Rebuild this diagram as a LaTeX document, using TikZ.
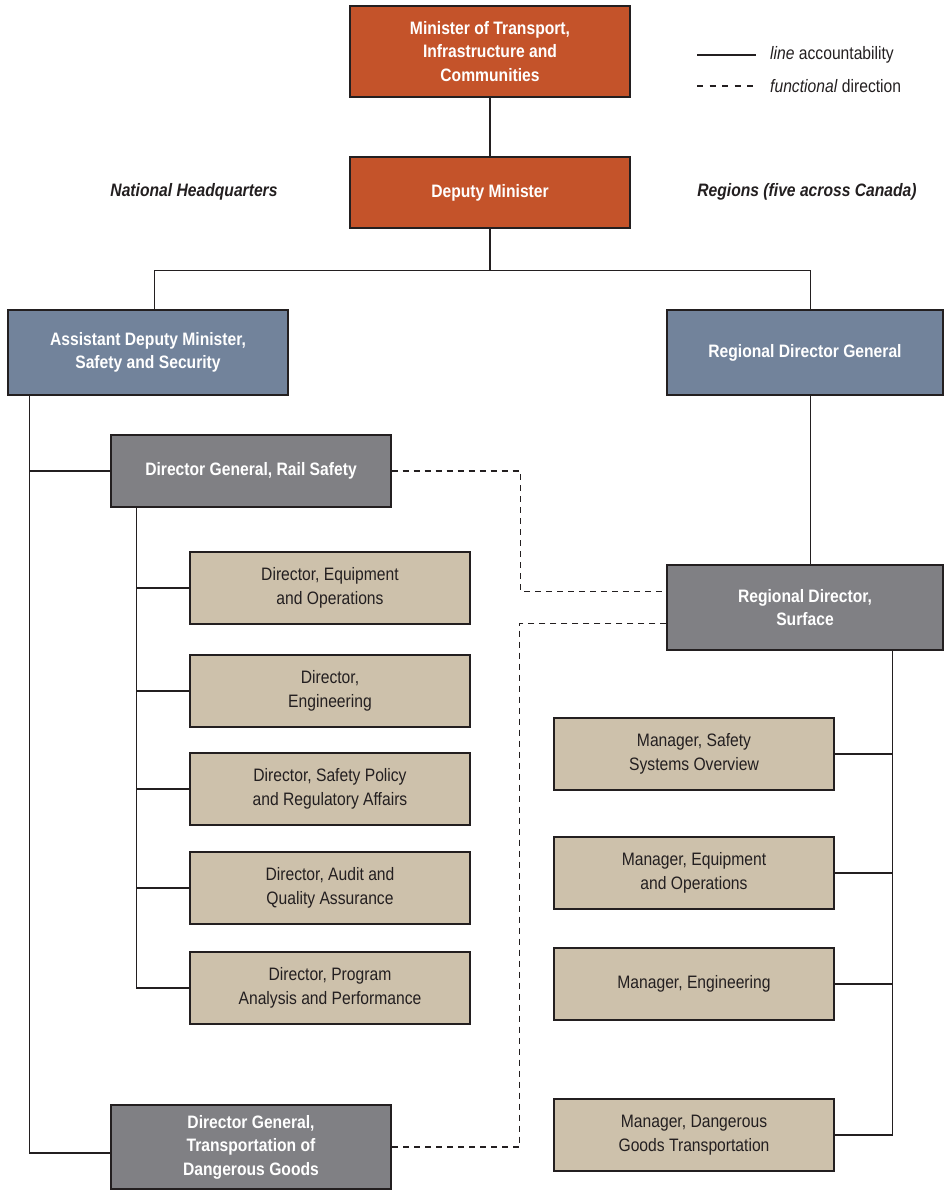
\documentclass[tikz,border=0pt]{standalone}
\usepackage{fontspec}
\setmainfont{Liberation Sans}[FakeStretch=0.87]
\usetikzlibrary{positioning}
\definecolor{minorange}{RGB}{196,83,42}
\definecolor{adblue}{RGB}{114,131,155}
\definecolor{dggray}{RGB}{128,128,132}
\definecolor{dirtan}{RGB}{205,193,171}
\definecolor{inkdark}{RGB}{35,31,32}

\begin{document}
\begin{tikzpicture}[x=1pt, y=-1pt,
  box/.style={draw=inkdark, line width=1.4pt, minimum width=280pt, inner sep=0pt, align=center, text=inkdark, font=\fontsize{18}{23.5}\selectfont},
  boldbox/.style={box, text=white, font=\fontsize{18}{23.5}\selectfont\bfseries},
  minbox/.style={boldbox, fill=minorange},
  adbox/.style={boldbox, fill=adblue},
  dgbox/.style={boldbox, fill=dggray},
  dirbox/.style={box, fill=dirtan, minimum height=72pt},
  hdr/.style={font=\fontsize{18}{23.5}\selectfont\bfseries\itshape, text=inkdark},
  lgd/.style={anchor=west, inner sep=0pt, font=\fontsize{18}{23.5}\selectfont, text=inkdark},
  acc/.style={draw=inkdark, line width=1.5pt},
  func/.style={acc, dash pattern=on 6pt off 5pt}]
\useasboundingbox (0,0) rectangle (943,1190);

\node[minbox, minimum height=91pt] (min) at (490,51.5) {Minister of Transport,\\Infrastructure and\\Communities};
\node[minbox, minimum height=71pt] (dm) at (490,192.5) {Deputy Minister};
\node[hdr] (nhq) at (194,192) {National Headquarters};
\node[hdr] (reg) at (807,192) {Regions (five across Canada)};

\node[lgd] (lgacc) at (770,55) {\textit{line} accountability};
\node[lgd] (lgfun) at (770,86) {\textit{functional} direction};
\draw[acc] ([xshift=-73pt]lgacc.west) -- ([xshift=-14pt]lgacc.west);
\draw[acc, dash pattern=on 6pt off 6.5pt] ([xshift=-73pt]lgfun.west) -- ([xshift=-14pt]lgfun.west);

\node[adbox, minimum height=85pt] (adm) at (148,352.5) {Assistant Deputy Minister,\\Safety and Security};
\node[adbox, minimum height=85pt, minimum width=276pt] (rdg) at (805,352.5) {Regional Director General};

\node[dgbox, minimum height=72pt] (dgrail) at (251,471) {Director General, Rail Safety};
\node[dgbox, minimum height=84pt] (dgtdg) at (251,1147) {Director General,\\Transportation of\\Dangerous Goods};
\node[dgbox, minimum height=85pt, minimum width=276pt] (rds) at (805,607.5) {Regional Director,\\Surface};

\node[dirbox] (direq) at (330,588) {Director, Equipment\\and Operations};
\node[dirbox] (direng) at (330,691) {Director,\\Engineering};
\node[dirbox] (dirspr) at (330,789) {Director, Safety Policy\\and Regulatory Affairs};
\node[dirbox] (dirauq) at (330,888) {Director, Audit and\\Quality Assurance};
\node[dirbox] (dirpap) at (330,988) {Director, Program\\Analysis and Performance};

\node[dirbox] (mgrsso) at (694,754) {Manager, Safety\\Systems Overview};
\node[dirbox] (mgreq) at (694,873) {Manager, Equipment\\and Operations};
\node[dirbox] (mgreng) at (694,984) {Manager, Engineering};
\node[dirbox] (mgrdg) at (694,1135) {Manager, Dangerous\\Goods Transportation};

\draw[acc] (min.south) -- (dm.north);
\draw[acc] (dm.south) -- ++(0,42) -| ([xshift=147pt]adm.north west);
\draw[acc] (dm.south) -- ++(0,42) -| ([xshift=144pt]rdg.north west);
\draw[acc] ([xshift=22pt]adm.south west) |- (dgrail.west);
\draw[acc] ([xshift=22pt]adm.south west) |- ([yshift=-6pt]dgtdg.west);
\foreach \d in {direq,direng,dirspr,dirauq,dirpap}
  \draw[acc] ([xshift=26pt]dgrail.south west) |- (\d.west);
\draw[acc] ([xshift=144pt]rdg.south west) -- ([xshift=144pt]rds.north west);
\foreach \m in {mgrsso,mgreq,mgreng,mgrdg}
  \draw[acc] ([xshift=226pt]rds.south west) |- (\m.east);

\draw[func] (dgrail.east) -- ++(129,0) |- ([yshift=16pt]rds.west);
\draw[func] ([yshift=-16pt]rds.west) -- ++(-147,0) |- (dgtdg.east);
\end{tikzpicture}
\end{document}
